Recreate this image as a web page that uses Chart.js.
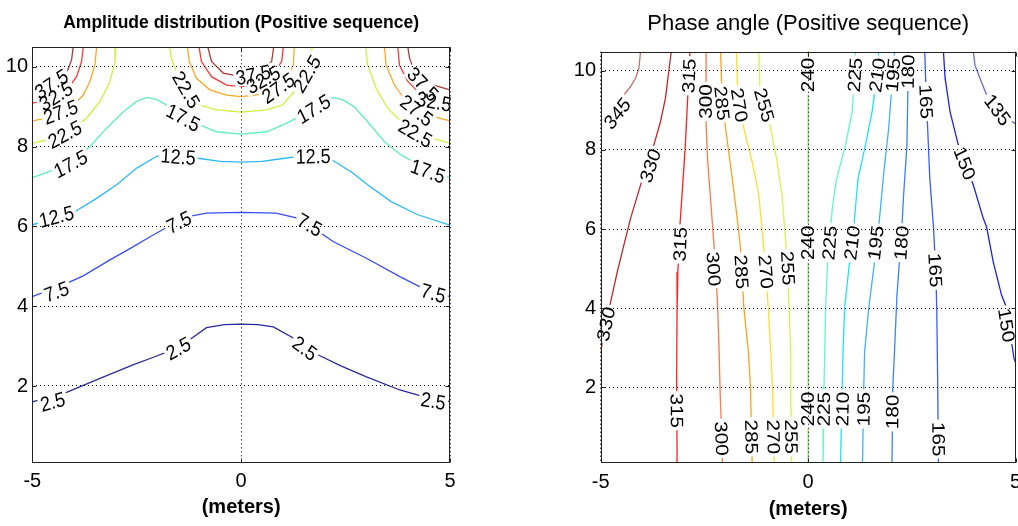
<!DOCTYPE html>
<html>
<head>
<meta charset="utf-8">
<title>Positive sequence contours</title>
<script src="https://cdn.jsdelivr.net/npm/chart.js@4.4.1/dist/chart.umd.min.js"></script>
<style>
  html, body { margin: 0; padding: 0; background: #fff; overflow: hidden; }
  #page { position: relative; width: 1018px; height: 526px; overflow: hidden; }
  canvas { position: absolute; top: 0; }
  #ampChart { left: 0; }
  #phaseChart { left: 509px; }
</style>
</head>
<body>
<div id="page">
  <canvas id="ampChart" width="509" height="526"></canvas>
  <canvas id="phaseChart" width="520" height="526"></canvas>
</div>
<script>
const FONT = "'Liberation Sans', Arial, Helvetica, sans-serif";

// ---- Left: amplitude distribution, contour lines as [x, y] (meters) ----
const ampXTicks = [-5, 0, 5];
const ampYTicks = [2, 4, 6, 8, 10];

const amp2_5 = [[-5, 1.60], [-4.18, 1.84], [-3.38, 2.19], [-2.59, 2.53], [-2.1, 2.72], [-1.66, 2.90], [-1.30, 3.11],
  [-0.83, 3.46], [-0.4, 3.54], [0, 3.55], [0.4, 3.54], [0.77, 3.48], [1.41, 3.11], [1.80, 2.80], [2.4, 2.50],
  [3.0, 2.23], [3.80, 1.90], [4.4, 1.72], [5, 1.61]];
const amp7_5 = [[-5, 4.24], [-4.18, 4.57], [-3.78, 4.76], [-3.14, 5.16], [-2.6, 5.48], [-2.18, 5.74], [-1.7, 6.02],
  [-1.30, 6.24], [-0.83, 6.33], [0, 6.35], [0.83, 6.33], [1.30, 6.22], [1.7, 5.98], [2.20, 5.62], [3.0, 5.20],
  [3.80, 4.74], [4.4, 4.42], [5, 4.24]];
const amp12_5 = [[-5, 6.04], [-4.42, 6.20], [-4.10, 6.29], [-3.46, 6.70], [-2.98, 7.04], [-2.50, 7.46], [-2.03, 7.75],
  [-1.85, 7.80], [-1.5, 7.77], [-1.0, 7.70], [-0.5, 7.63], [0, 7.61], [0.5, 7.63], [1.0, 7.70], [1.5, 7.77],
  [1.84, 7.78], [2.15, 7.68], [2.63, 7.37], [3.03, 7.04], [3.59, 6.62], [4.23, 6.29], [5, 6.03]];
const amp17_5 = [[-5, 7.22], [-4.50, 7.41], [-4.0, 7.70], [-3.62, 8.00], [-3.22, 8.46], [-2.82, 8.87], [-2.50, 9.13],
  [-2.26, 9.23], [-2.03, 9.18], [-1.75, 9.02], [-1.4, 8.78], [-0.99, 8.54], [-0.59, 8.37], [0, 8.31], [0.61, 8.37],
  [1.0, 8.54], [1.3, 8.70], [1.6, 8.92], [1.95, 9.15], [2.22, 9.23], [2.45, 9.16], [2.7, 9.0], [3.03, 8.62],
  [3.43, 8.12], [3.83, 7.79], [4.4, 7.45], [5, 7.22]];
const amp22_5L = [[-3.00, 10.5], [-3.02, 10.13], [-3.14, 9.63], [-3.38, 9.13], [-3.70, 8.71], [-4.0, 8.48], [-4.26, 8.33], [-4.6, 8.18], [-5, 8.08]];
const amp22_5C = [[-1.71, 10.5], [-1.67, 10.21], [-1.55, 9.88], [-1.3, 9.42], [-0.99, 9.04], [-0.59, 8.92], [0, 8.86],
  [0.61, 8.92], [0.99, 9.04], [1.3, 9.42], [1.55, 9.88], [1.67, 10.21], [1.70, 10.5]];
const amp22_5R = [[2.98, 10.5], [3.03, 10.04], [3.23, 9.46], [3.51, 8.96], [3.9, 8.55], [4.3, 8.3], [5, 8.08]];
const amp27_5L = [[-3.46, 10.5], [-3.50, 10.05], [-3.62, 9.63], [-3.78, 9.29], [-4.0, 9.05], [-4.26, 8.87], [-4.66, 8.71], [-5, 8.64]];
const amp27_5C = [[-1.29, 10.5], [-1.24, 10.13], [-1.07, 9.71], [-0.75, 9.42], [-0.35, 9.29], [0, 9.25], [0.35, 9.29],
  [0.75, 9.42], [1.09, 9.68], [1.25, 10.05], [1.27, 10.5]];
const amp27_5R = [[3.43, 10.5], [3.47, 10.04], [3.67, 9.54], [3.95, 9.13], [4.31, 8.83], [5, 8.64]];
const amp32_5L = [[-3.78, 10.5], [-3.82, 10.13], [-3.94, 9.75], [-4.14, 9.46], [-4.58, 9.17], [-5, 9.09]];
const amp32_5C = [[-1.01, 10.5], [-0.95, 10.13], [-0.71, 9.75], [-0.35, 9.54], [0, 9.50], [0.35, 9.54], [0.71, 9.75], [0.97, 10.13], [1.01, 10.5]];
const amp32_5R = [[3.75, 10.5], [3.79, 10.04], [3.99, 9.63], [4.23, 9.38], [4.6, 9.17], [5, 9.09]];
const amp37_5L = [[-4.02, 10.5], [-4.06, 10.17], [-4.18, 9.84], [-4.58, 9.56], [-5, 9.42]];
const amp37_5C = [[-0.80, 10.5], [-0.71, 10.13], [-0.43, 9.84], [0, 9.75], [0.43, 9.84], [0.73, 10.13], [0.78, 10.5]];
const amp37_5R = [[3.99, 10.5], [4.03, 10.22], [4.15, 9.88], [4.4, 9.6], [5, 9.42]];

const ampLines = [
  [2.5, amp2_5], [7.5, amp7_5], [12.5, amp12_5], [17.5, amp17_5],
  [22.5, amp22_5L], [22.5, amp22_5C], [22.5, amp22_5R],
  [27.5, amp27_5L], [27.5, amp27_5C], [27.5, amp27_5R],
  [32.5, amp32_5L], [32.5, amp32_5C], [32.5, amp32_5R],
  [37.5, amp37_5L], [37.5, amp37_5C], [37.5, amp37_5R]
];

// inline contour labels: [level, x, y]
const ampLabels = [
  [37.5, -4.54, 9.56], [32.5, -4.43, 9.26], [27.5, -4.32, 8.86], [22.5, -4.22, 8.30], [17.5, -4.08, 7.56],
  [12.5, -4.42, 6.24], [7.5, -4.42, 4.36], [2.5, -4.51, 1.60],
  [22.5, -1.32, 9.42], [17.5, -1.39, 8.72], [12.5, -1.51, 7.74], [7.5, -1.49, 6.10], [2.5, -1.50, 2.94],
  [37.5, 0.29, 9.79], [32.5, 0.53, 9.67], [27.5, 0.89, 9.46], [22.5, 1.58, 9.82], [17.5, 1.74, 8.94],
  [12.5, 1.72, 7.75], [7.5, 1.64, 6.03], [2.5, 1.52, 2.94],
  [37.5, 4.35, 9.56], [32.5, 4.62, 9.12], [27.5, 4.2, 8.9], [22.5, 4.17, 8.33], [17.5, 4.47, 7.38],
  [7.5, 4.60, 4.32], [2.5, 4.60, 1.62]
];

// ---- Right: phase angle (degrees), contour lines as [x, y] ----
const phXTicks = [-5, 0, 5];
const phYTicks = [2, 4, 6, 8, 10];

const ph345 = [[-4.04, 10.48], [-4.08, 10.06], [-4.16, 9.81], [-4.28, 9.60], [-4.44, 9.39], [-4.76, 8.96], [-5.0, 8.71]];
const ph330 = [[-3.30, 10.48], [-3.36, 9.98], [-3.44, 9.30], [-3.56, 8.71], [-3.72, 8.12], [-4.04, 7.11], [-4.28, 6.27],
  [-4.44, 5.60], [-4.60, 4.92], [-4.76, 4.16], [-4.9, 3.5], [-5.0, 2.90]];
const ph315 = [[-2.85, 10.48], [-2.90, 9.39], [-2.96, 8.12], [-3.04, 6.86], [-3.09, 6.10], [-3.14, 4.92], [-3.16, 3.91],
  [-3.17, 2.23], [-3.16, 0.37], [-3.16, 0.09]];
const ph300 = [[-2.46, 10.48], [-2.46, 8.63], [-2.42, 7.70], [-2.36, 6.86], [-2.27, 5.60], [-2.19, 4.25], [-2.15, 3.07],
  [-2.12, 1.81], [-2.08, 0.7], [-2.07, 0.09]];
const ph285 = [[-2.11, 10.48], [-2.08, 9.5], [-1.99, 8.54], [-1.83, 7.28], [-1.71, 6.27], [-1.63, 5.51], [-1.55, 4.01],
  [-1.44, 2.89], [-1.39, 2.0], [-1.35, 0.09]];
const ph270 = [[-1.73, 10.48], [-1.70, 9.5], [-1.55, 8.54], [-1.35, 7.70], [-1.19, 6.86], [-1.07, 5.51], [-0.96, 4.01],
  [-0.90, 2.89], [-0.86, 2.0], [-0.82, 0.09]];
const ph255 = [[-1.19, 10.48], [-1.16, 9.5], [-0.90, 8.54], [-0.75, 7.70], [-0.63, 6.86], [-0.53, 5.51], [-0.46, 4.01],
  [-0.42, 2.89], [-0.42, 2.0], [-0.40, 0.09]];
const ph240 = [[0, 10.48], [0, 0.09]];
const ph225 = [[1.14, 10.48], [1.12, 9.9], [1.06, 8.96], [0.90, 8.12], [0.68, 7.25], [0.58, 6.5], [0.54, 6.0], [0.46, 5.0],
  [0.42, 4.01], [0.40, 2.89], [0.38, 2.0], [0.36, 0.09]];
const ph210 = [[1.70, 10.48], [1.66, 9.9], [1.54, 8.96], [1.38, 8.12], [1.20, 7.26], [1.10, 6.05], [0.98, 5.0], [0.88, 4.01],
  [0.84, 2.89], [0.82, 2.0], [0.78, 0.09]];
const ph195 = [[2.08, 10.48], [2.04, 9.9], [1.94, 8.54], [1.82, 7.4], [1.70, 6.05], [1.58, 5.0], [1.46, 4.01], [1.36, 2.89],
  [1.34, 2.0], [1.31, 0.09]];
const ph180 = [[2.42, 10.48], [2.41, 9.9], [2.38, 8.12], [2.30, 6.86], [2.26, 6.05], [2.14, 4.33], [2.08, 2.89], [2.04, 2.0], [2.02, 0.09]];
const ph165 = [[2.81, 10.48], [2.83, 9.81], [2.88, 8.54], [2.93, 7.3], [3.02, 6.05], [3.08, 4.8], [3.10, 3.91], [3.12, 2.23], [3.14, 0.09]];
const ph150 = [[3.26, 10.48], [3.30, 9.81], [3.42, 8.96], [3.62, 8.12], [3.98, 7.11], [4.22, 6.27], [4.30, 6.05], [4.46, 5.17],
  [4.66, 4.33], [4.78, 4.01], [4.96, 2.73], [5.0, 2.62]];
const ph135 = [[3.98, 10.48], [4.02, 10.14], [4.14, 9.81], [4.30, 9.39], [4.6, 8.95], [4.98, 8.67], [5.0, 8.66]];

const phLines = [
  [345, ph345], [330, ph330], [315, ph315], [300, ph300], [285, ph285], [270, ph270], [255, ph255], [240, ph240],
  [225, ph225], [210, ph210], [195, ph195], [180, ph180], [165, ph165], [150, ph150], [135, ph135]
];

const phLabels = [
  [345, -4.60, 8.92], [330, -3.80, 7.60], [330, -4.87, 3.60],
  [315, -2.87, 9.87], [315, -3.08, 5.62], [315, -3.17, 1.41],
  [300, -2.46, 9.22], [300, -2.28, 4.99], [300, -2.09, 0.71],
  [285, -2.08, 9.18], [285, -1.61, 4.92], [285, -1.37, 0.75],
  [270, -1.66, 9.13], [270, -1.02, 4.92], [270, -0.84, 0.75],
  [255, -1.06, 9.13], [255, -0.49, 5.01], [255, -0.41, 0.75],
  [240, 0, 9.89], [240, 0, 5.65], [240, 0, 1.45],
  [225, 1.13, 9.89], [225, 0.52, 5.65], [225, 0.38, 1.45],
  [210, 1.67, 9.89], [210, 1.06, 5.65], [210, 0.83, 1.45],
  [195, 2.05, 9.89], [195, 1.63, 5.65], [195, 1.34, 1.45],
  [180, 2.41, 9.98], [180, 2.25, 5.65], [180, 2.03, 1.38],
  [165, 2.84, 9.22], [165, 3.06, 4.96], [165, 3.14, 0.69],
  [150, 3.77, 7.66], [150, 4.78, 3.57], [135, 4.56, 9.01]
];

// jet-like colours per level
const ampColors = {
  2.5: '#2a2a9c', 7.5: '#3a4ef0', 12.5: '#2cb8f8', 17.5: '#5ef0b8',
  22.5: '#cdf03c', 27.5: '#ffa828', 32.5: '#ff3838', 37.5: '#a83a3a'
};
const phColors = {
  345: '#c07070', 330: '#c02828', 315: '#ff2020', 300: '#ff7848', 285: '#ffa020', 270: '#ffdc30',
  255: '#d8f050', 240: '#90e070', 225: '#60f8c8', 210: '#20e0ff', 195: '#40b0ff', 180: '#3a80ff',
  165: '#3a5cff', 150: '#2020e0', 135: '#6a6ad0'
};

function segDist(px, py, ax, ay, bx, by) {
  const dx = bx - ax, dy = by - ay;
  const len = dx * dx + dy * dy;
  let t = len ? ((px - ax) * dx + (py - ay) * dy) / len : 0;
  t = Math.max(0, Math.min(1, t));
  return Math.hypot(px - (ax + t * dx), py - (ay + t * dy));
}

// MATLAB-style inline labels: rotated along the line, with a gap cut in the line
function contourLabelPlugin(labels, lines) {
  const size = 18, stretch = 1.15;

  function place(chart) {
    const xs = chart.scales.x, ys = chart.scales.y, ctx = chart.ctx;
    ctx.save();
    ctx.font = size + 'px ' + FONT;
    const out = labels.map(([level, x, y]) => {
      const px = xs.getPixelForValue(x), py = ys.getPixelForValue(y);
      let best = Infinity, ang = 0;
      lines.filter(l => l[0] === level).forEach(([, pts]) => {
        for (let i = 1; i < pts.length; i++) {
          const ax = xs.getPixelForValue(pts[i - 1][0]), ay = ys.getPixelForValue(pts[i - 1][1]);
          const bx = xs.getPixelForValue(pts[i][0]), by = ys.getPixelForValue(pts[i][1]);
          const d = segDist(px, py, ax, ay, bx, by);
          if (d < best) { best = d; ang = Math.atan2(ay - by, bx - ax); }
        }
      });
      if (ang > Math.PI / 2) ang -= Math.PI;
      if (ang <= -Math.PI / 2) ang += Math.PI;
      const rot = Math.atan2(Math.sin(ang) / stretch, Math.cos(ang));
      const text = String(level);
      return { text, px, py, rot, w: ctx.measureText(text).width };
    });
    ctx.restore();
    return out;
  }

  function toLabel(ctx, l) {
    ctx.translate(l.px, l.py);
    ctx.scale(1, stretch);
    ctx.rotate(-l.rot);
  }

  return {
    id: 'contourLabels',
    beforeDatasetsDraw(chart) {
      const ctx = chart.ctx;
      chart.$labels = place(chart);
      ctx.save();
      chart.$labels.forEach(l => {
        ctx.beginPath();
        ctx.rect(0, 0, chart.width, chart.height);
        ctx.save();
        toLabel(ctx, l);
        ctx.rect(-l.w / 2 - 2, -size * 0.42, l.w + 4, size * 0.84);
        ctx.restore();
        ctx.clip('evenodd');
      });
    },
    afterDatasetsDraw(chart) {
      chart.ctx.restore();
    },
    afterDraw(chart) {
      const ctx = chart.ctx;
      ctx.save();
      ctx.fillStyle = '#000';
      ctx.font = size + 'px ' + FONT;
      ctx.textAlign = 'center';
      ctx.textBaseline = 'middle';
      chart.$labels.forEach(l => {
        ctx.save();
        toLabel(ctx, l);
        ctx.fillText(l.text, 0, 1);
        ctx.restore();
      });
      ctx.restore();
    }
  };
}

// box around the axes with small inward tick marks
const framePlugin = {
  id: 'frame',
  afterDraw(chart) {
    const { ctx, chartArea: a, scales } = chart;
    const L = Math.round(a.left) + 0.5, R = Math.round(a.right) - 0.5;
    const T = Math.round(a.top) + 0.5, B = Math.round(a.bottom) - 0.5;
    ctx.save();
    ctx.strokeStyle = '#222';
    ctx.lineWidth = 1;
    ctx.strokeRect(L, T, R - L, B - T);
    ctx.beginPath();
    scales.x.ticks.forEach(t => {
      const x = Math.round(scales.x.getPixelForValue(t.value)) + 0.5;
      ctx.moveTo(x, B); ctx.lineTo(x, B - 4);
      ctx.moveTo(x, T); ctx.lineTo(x, T + 4);
    });
    scales.y.ticks.forEach(t => {
      const y = Math.round(scales.y.getPixelForValue(t.value)) + 0.5;
      ctx.moveTo(L, y); ctx.lineTo(L + 4, y);
      ctx.moveTo(R, y); ctx.lineTo(R - 4, y);
    });
    ctx.stroke();
    ctx.restore();
  }
};

function contourSets(lines, colors) {
  return lines.map(([level, pts]) => ({
    label: String(level),
    data: pts.map(([x, y]) => ({ x, y })),
    showLine: true,
    borderColor: colors[level],
    borderWidth: 1.3,
    pointRadius: 0,
    tension: 0,
    fill: false
  }));
}

function makeChart(canvasId, cfg) {
  return new Chart(document.getElementById(canvasId), {
    type: 'scatter',
    data: { datasets: contourSets(cfg.lines, cfg.colors) },
    options: {
      responsive: false,
      animation: false,
      events: [],
      layout: { padding: cfg.padding },
      plugins: {
        legend: { display: false },
        tooltip: { enabled: false },
        title: {
          display: true,
          fullSize: false,
          text: cfg.title,
          color: '#000',
          font: cfg.titleFont,
          padding: cfg.titlePadding
        }
      },
      scales: {
        x: {
          type: 'linear',
          min: -5,
          max: 5,
          afterBuildTicks: s => { s.ticks = cfg.xTicks.map(v => ({ value: v })); },
          afterFit: s => { s.height = 63.3; },
          ticks: { color: '#000', font: { family: FONT, size: 20 }, padding: cfg.xTickPad, maxRotation: 0, autoSkip: false, callback: v => v },
          grid: { color: '#000', lineWidth: 1, drawTicks: false, z: 1 },
          border: { display: false, dash: [1, 3] },
          title: {
            display: true,
            text: '(meters)',
            color: '#000',
            font: { family: FONT, size: 20, weight: 'bold' },
            padding: { top: 0, bottom: cfg.xTitlePad }
          }
        },
        y: {
          type: 'linear',
          min: cfg.yMin,
          max: cfg.yMax,
          afterBuildTicks: s => { s.ticks = cfg.yTicks.map(v => ({ value: v })); },
          afterFit: s => { s.width = cfg.yWidth; },
          ticks: { color: '#000', font: { family: FONT, size: 20 }, padding: cfg.yTickPad, autoSkip: false, callback: v => v },
          grid: { color: '#000', lineWidth: 1, drawTicks: false, z: 1 },
          border: { display: false, dash: [1, 3] }
        }
      }
    },
    plugins: [contourLabelPlugin(cfg.labels, cfg.lines), framePlugin]
  });
}

makeChart('ampChart', {
  lines: ampLines, colors: ampColors, labels: ampLabels,
  title: 'Amplitude distribution (Positive sequence)',
  titleFont: { family: FONT, size: 17.5, weight: 'bold' },
  titlePadding: { top: 13, bottom: 13.3 },
  padding: { left: 0, right: 59, top: 0, bottom: 0 },
  yWidth: 32.3, yMin: 0.078, yMax: 10.486,
  xTicks: ampXTicks, yTicks: ampYTicks,
  xTickPad: 6.3, yTickPad: 4.3, xTitlePad: 6.5
});

makeChart('phaseChart', {
  lines: phLines, colors: phColors, labels: phLabels,
  title: 'Phase angle (Positive sequence)',
  titleFont: { family: FONT, size: 22, weight: 'normal' },
  titlePadding: { top: 11.2, bottom: 14.1 },
  padding: { left: 0, right: 12.3, top: 0, bottom: 0 },
  yWidth: 91.7, yMin: 0.095, yMax: 10.48,
  xTicks: phXTicks, yTicks: phYTicks,
  xTickPad: 7.8, yTickPad: 4.7, xTitlePad: 5
});
</script>
</body>
</html>
